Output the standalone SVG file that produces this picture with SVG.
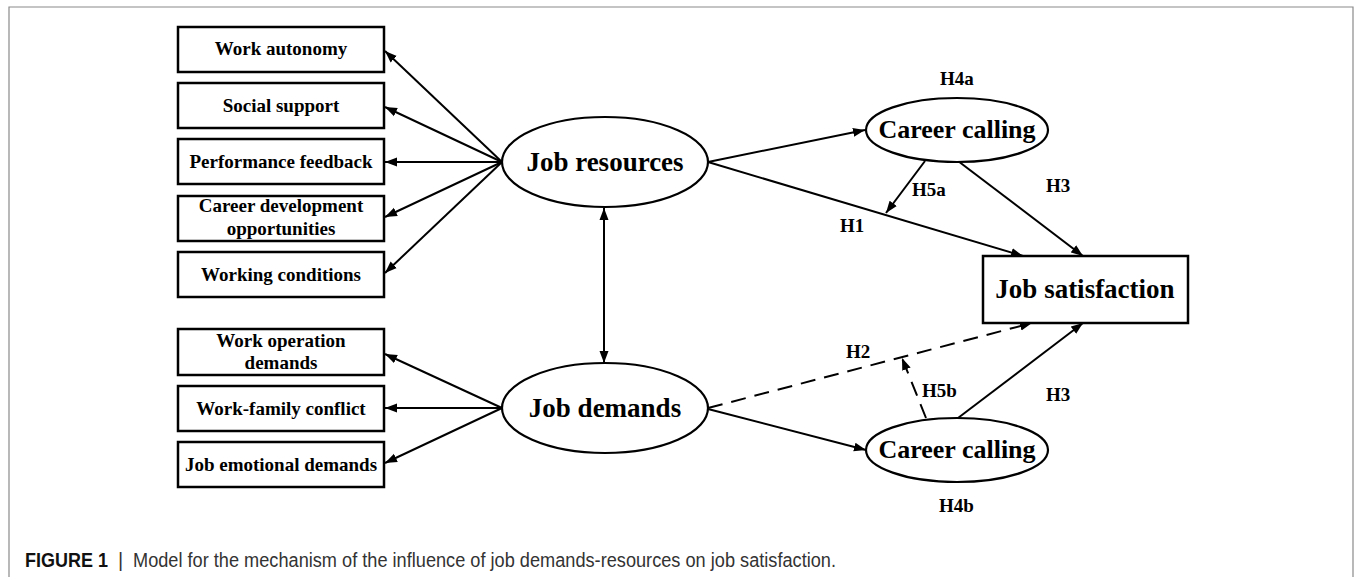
<svg xmlns="http://www.w3.org/2000/svg" width="1355" height="577" viewBox="0 0 1355 577">
<style>
.box{fill:#fff;stroke:#000;stroke-width:2.5}
.ell{fill:#fff;stroke:#000;stroke-width:2.2}
.t{font-family:"Liberation Serif","Times New Roman",serif;font-weight:bold;fill:#000}
.bt{font-size:19px;text-anchor:middle}
.et{font-size:27px;text-anchor:middle}
.ct{font-size:26px;text-anchor:middle}
.lb{font-size:19px}
.ln{stroke:#000;stroke-width:2;fill:none}
.a{marker-end:url(#ah)}
.dash{stroke-dasharray:15 9}
</style>
<defs>
<marker id="ah" markerUnits="userSpaceOnUse" markerWidth="13" markerHeight="10" refX="12" refY="4.5" orient="auto-start-reverse" viewBox="0 0 13 9">
<path d="M0,0 L12,4.5 L0,9 z" fill="#000"/>
</marker>
</defs>
<rect width="1355" height="577" fill="#fff"/>
<path d="M9,577 V7 H1353 V577" fill="none" stroke="#8a8a8a" stroke-width="1.2"/>

<g id="connectors">
<line class="ln a" x1="502" y1="162" x2="385" y2="51"/>
<line class="ln a" x1="502" y1="162" x2="385" y2="107"/>
<line class="ln a" x1="502" y1="162" x2="385" y2="162"/>
<line class="ln a" x1="502" y1="162" x2="385" y2="217"/>
<line class="ln a" x1="502" y1="162" x2="385" y2="273"/>
<line class="ln a" x1="502" y1="408" x2="385" y2="354"/>
<line class="ln a" x1="502" y1="408" x2="385" y2="408"/>
<line class="ln a" x1="502" y1="408" x2="385" y2="463"/>
<line class="ln a" x1="604" y1="208" x2="604" y2="363" style="marker-start:url(#ah)"/>
<line class="ln a" x1="708" y1="162" x2="865" y2="130"/>
<line class="ln a" x1="708" y1="162" x2="1023" y2="256"/>
<line class="ln a" x1="925" y1="161" x2="886" y2="213"/>
<line class="ln a" x1="958" y1="161" x2="1083" y2="256"/>
<line class="ln a dash" x1="708" y1="408" x2="1032" y2="323"/>
<line class="ln a dash" x1="926" y1="418" x2="902" y2="358"/>
<line class="ln a" x1="708" y1="409" x2="866" y2="450"/>
<line class="ln a" x1="958" y1="418" x2="1083" y2="323"/>
</g>

<g id="work-autonomy"><rect class="box" x="178" y="27" width="206" height="45"/><text class="t bt" x="281" y="55">Work autonomy</text></g>
<g id="social-support"><rect class="box" x="178" y="83" width="206" height="45"/><text class="t bt" x="281" y="112">Social support</text></g>
<g id="performance-feedback"><rect class="box" x="178" y="139" width="206" height="45"/><text class="t bt" x="281" y="168">Performance feedback</text></g>
<g id="career-development"><rect class="box" x="178" y="196" width="206" height="45"/><text class="t bt" x="281" y="212">Career development</text><text class="t bt" x="281" y="235">opportunities</text></g>
<g id="working-conditions"><rect class="box" x="178" y="252" width="206" height="45"/><text class="t bt" x="281" y="281">Working conditions</text></g>
<g id="work-operation"><rect class="box" x="178" y="329" width="206" height="46"/><text class="t bt" x="281" y="347">Work operation</text><text class="t bt" x="281" y="369">demands</text></g>
<g id="work-family"><rect class="box" x="178" y="386" width="206" height="45"/><text class="t bt" x="281" y="415">Work-family conflict</text></g>
<g id="job-emotional"><rect class="box" x="178" y="442" width="206" height="45"/><text class="t bt" x="281" y="471">Job emotional demands</text></g>

<g id="job-resources"><ellipse class="ell" cx="605" cy="162" rx="103" ry="45"/><text class="t et" x="605" y="171">Job resources</text></g>
<g id="job-demands"><ellipse class="ell" cx="605" cy="408" rx="103" ry="45"/><text class="t et" x="605" y="417">Job demands</text></g>
<g id="career-calling-a"><ellipse class="ell" cx="957" cy="130" rx="91" ry="32"/><text class="t ct" x="957" y="138">Career calling</text></g>
<g id="career-calling-b"><ellipse class="ell" cx="957" cy="450" rx="91" ry="32"/><text class="t ct" x="957" y="458">Career calling</text></g>
<g id="job-satisfaction"><rect class="box" x="983" y="256" width="205" height="67"/><text class="t et" x="1085" y="298">Job satisfaction</text></g>

<g id="labels">
<text class="t lb" x="940" y="85">H4a</text>
<text class="t lb" x="912" y="196">H5a</text>
<text class="t lb" x="1046" y="192">H3</text>
<text class="t lb" x="840" y="232">H1</text>
<text class="t lb" x="846" y="358">H2</text>
<text class="t lb" x="922" y="397">H5b</text>
<text class="t lb" x="1046" y="401">H3</text>
<text class="t lb" x="939" y="512">H4b</text>
</g>

<g id="caption" font-family="'Liberation Sans',Arial,sans-serif" font-size="20">
<text x="25" y="567" font-weight="bold" fill="#111" textLength="83" lengthAdjust="spacingAndGlyphs">FIGURE 1</text>
<text x="118" y="567" fill="#333">|</text>
<text x="133" y="567" fill="#333" textLength="703" lengthAdjust="spacingAndGlyphs">Model for the mechanism of the influence of job demands-resources on job satisfaction.</text>
</g>
</svg>
